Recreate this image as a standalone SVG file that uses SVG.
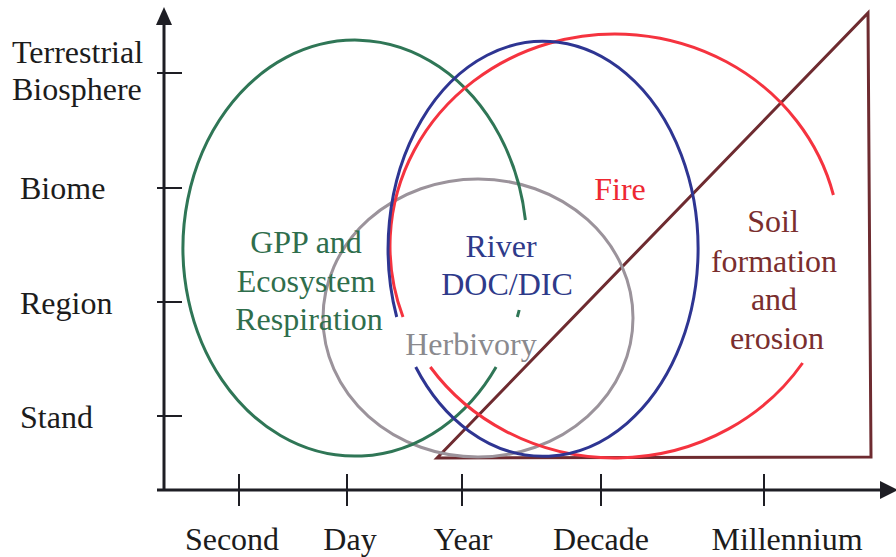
<svg xmlns="http://www.w3.org/2000/svg" width="896" height="557" viewBox="0 0 896 557">
<style>
text { font-family: "Times New Roman", "Liberation Serif", "DejaVu Serif", serif; font-size: 32px; }
.ax { stroke: #1e1e24; stroke-width: 3; fill: none; }
.tk { stroke: #1e1e24; stroke-width: 2; }
.lbl { fill: #1c1c1c; }
.c { fill: none; stroke-width: 3; }
.mid { text-anchor: middle; }
</style>
<rect width="896" height="557" fill="#ffffff"/>
<g id="axes" font-family="Times New Roman, Liberation Serif, serif">
  <line class="ax" x1="164" y1="20" x2="164" y2="491"/>
  <polygon points="156,25 164,7 172,25" fill="#1e1e24"/>
  <line class="ax" x1="157" y1="490" x2="884" y2="490"/>
  <polygon points="880,481 898,490 880,499" fill="#1e1e24"/>
  <line class="tk" x1="157" y1="73" x2="182" y2="73"/>
  <line class="tk" x1="157" y1="188" x2="182" y2="188"/>
  <line class="tk" x1="157" y1="302" x2="182" y2="302"/>
  <line class="tk" x1="157" y1="416" x2="182" y2="416"/>
  <line class="tk" x1="239" y1="474" x2="239" y2="506"/>
  <line class="tk" x1="347" y1="474" x2="347" y2="506"/>
  <line class="tk" x1="462" y1="474" x2="462" y2="506"/>
  <line class="tk" x1="601" y1="474" x2="601" y2="506"/>
  <line class="tk" x1="764" y1="474" x2="764" y2="506"/>
  <text class="lbl" x="12" y="63">Terrestrial</text>
  <text class="lbl" x="12" y="100">Biosphere</text>
  <text class="lbl" x="20" y="199">Biome</text>
  <text class="lbl" x="20" y="314">Region</text>
  <text class="lbl" x="20" y="428">Stand</text>
  <text class="lbl mid" x="232" y="550">Second</text>
  <text class="lbl mid" x="350" y="550">Day</text>
  <text class="lbl mid" x="463" y="550">Year</text>
  <text class="lbl mid" x="601" y="550">Decade</text>
  <text class="lbl mid" x="787" y="550">Millennium</text>
</g>
<g id="soil-formation">
  <polygon points="437,458 868,13 871,457" fill="none" stroke="#6e2b30" stroke-width="3" stroke-linejoin="miter"/>
</g>
<g id="herbivory">
  <ellipse class="c" cx="478" cy="318" rx="155" ry="139" stroke="#9b939b"/>
  <text class="mid" x="471" y="355" fill="#8a8a8e">Herbivory</text>
</g>
<g id="gpp">
  <path class="c" stroke="#2f7656" d="M 525.4 220 A 172 208 0 1 0 496.1 367"/>
  <path class="c" stroke="#2f7656" d="M 519.2 310 A 172 208 0 0 1 517.3 317"/>
  <text class="mid" x="306" y="253" fill="#2f6e4c">GPP and</text>
  <text class="mid" x="306" y="292" fill="#2f6e4c">Ecosystem</text>
  <text class="mid" x="309" y="330" fill="#2f6e4c">Respiration</text>
</g>
<g id="fire">
  <path class="c" stroke="#f5333f" d="M 833.4 195 A 225 212 0 1 0 403 317"/>
  <path class="c" stroke="#f5333f" d="M 430.3 367 A 225 212 0 0 0 802.6 363"/>
  <text class="mid" x="620" y="200" fill="#ee2832">Fire</text>
</g>
<g id="river">
  <path class="c" stroke="#2e3592" d="M 396.7 317 A 155 207.5 0 1 1 415.7 367"/>
  <text class="mid" x="501" y="257" fill="#2e3a8a">River</text>
  <text class="mid" x="507" y="295" fill="#2e3a8a">DOC/DIC</text>
</g>
<g id="soil-label">
  <text class="mid" x="773" y="232" fill="#7a2e2e">Soil</text>
  <text class="mid" x="774" y="272" fill="#7a2e2e">formation</text>
  <text class="mid" x="774" y="310" fill="#7a2e2e">and</text>
  <text class="mid" x="777" y="349" fill="#7a2e2e">erosion</text>
</g>
</svg>
